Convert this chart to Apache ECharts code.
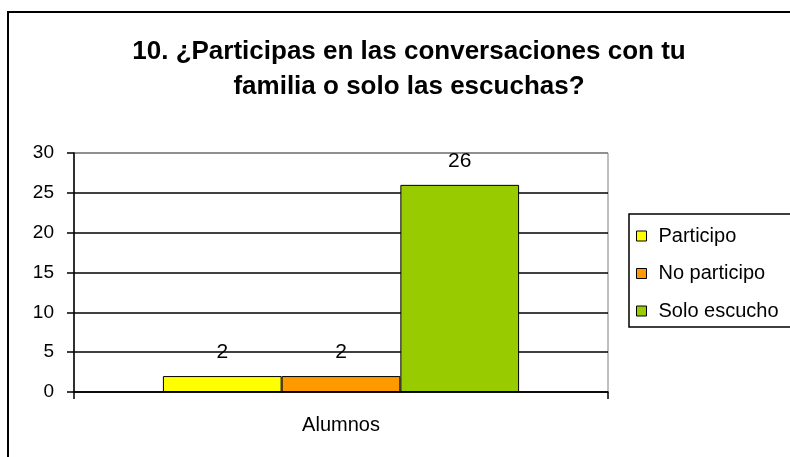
<!DOCTYPE html>
<html lang="es">
<head>
    <meta charset="UTF-8">
    <title>Participas en las conversaciones</title>
    <script src="https://cdn.jsdelivr.net/npm/echarts@6/dist/echarts.min.js"></script>
    <style>
        html, body { margin: 0; padding: 0; background: #fff; }
    </style>
</head>
<body>
<div id="chart" style="width: 790px;height:457px;"></div>
<script>
    let categorias = ['Alumnos'];
    let nombres = ['Participo', 'No participo', 'Solo escucho'];
    let participo = [2];
    let noParticipo = [2];
    let soloEscucho = [26];
    let colores = ['#FFFF00', '#FF9900', '#99CC00'];

    let valores = [participo, noParticipo, soloEscucho];
    let fuente = 'Liberation Sans, Arial, sans-serif';

    let chart = echarts.init(document.getElementById('chart'));

    let series = [];
    for (let i = 0; i < nombres.length; i++) {
        series.push({
            name: nombres[i],
            type: 'bar',
            data: valores[i],
            barGap: '0%',
            barCategoryGap: '33.3%',
            itemStyle: {
                color: colores[i],
                borderColor: '#000',
                borderWidth: 1
            },
            label: {
                show: true,
                position: 'top',
                distance: 13,
                color: '#000',
                fontFamily: fuente,
                fontSize: 21
            }
        });
    }

    let option = {
        backgroundColor: '#fff',
        animation: false,
        title: {
            text: '10. ¿Participas en las conversaciones con tu\nfamilia o solo las escuchas?',
            left: 404,
            top: 29,
            textAlign: 'center',
            textStyle: {
                fontFamily: fuente,
                fontWeight: 'bold',
                fontSize: 26,
                lineHeight: 35,
                color: '#000'
            }
        },
        // recuadro exterior y recuadro de la leyenda
        graphic: [
            {
                type: 'rect',
                shape: { x: 8, y: 12, width: 800, height: 460 },
                style: { fill: 'none', stroke: '#000', lineWidth: 2 },
                z: 100
            },
            {
                type: 'rect',
                shape: { x: 629, y: 214, width: 200, height: 113 },
                style: { fill: '#fff', stroke: '#000', lineWidth: 1.5 },
                z: 0
            }
        ],
        legend: {
            orient: 'vertical',
            left: 636,
            top: 226,
            padding: 0,
            itemWidth: 10,
            itemHeight: 10,
            itemGap: 17.5,
            icon: 'rect',
            itemStyle: { borderColor: '#000', borderWidth: 1 },
            textStyle: {
                fontFamily: fuente,
                fontSize: 20,
                lineHeight: 20,
                color: '#000',
                padding: [0, 0, 0, 7]
            },
            z: 10
        },
        grid: {
            left: 74,
            right: 182,
            top: 153,
            bottom: 65,
            show: true,
            backgroundColor: '#fff',
            borderColor: '#808080',
            borderWidth: 1
        },
        xAxis: {
            type: 'category',
            data: categorias,
            axisLine: { lineStyle: { color: '#000', width: 1.5 } },
            axisTick: { show: true, length: 7, lineStyle: { color: '#000', width: 1.5 } },
            axisLabel: {
                margin: 23,
                color: '#000',
                fontFamily: fuente,
                fontSize: 20
            }
        },
        yAxis: {
            type: 'value',
            min: 0,
            max: 30,
            interval: 5,
            axisLine: { show: true, lineStyle: { color: '#000', width: 1.5 } },
            axisTick: { show: true, length: 7, lineStyle: { color: '#000', width: 1.5 } },
            axisLabel: {
                margin: 20,
                color: '#000',
                fontFamily: fuente,
                fontSize: 19
            },
            splitLine: {
                show: true,
                lineStyle: {
                    color: ['#000', '#000', '#000', '#000', '#000', '#000', '#808080'],
                    width: 1.5
                }
            }
        },
        series: series
    };

    chart.setOption(option);
</script>
</body>
</html>
